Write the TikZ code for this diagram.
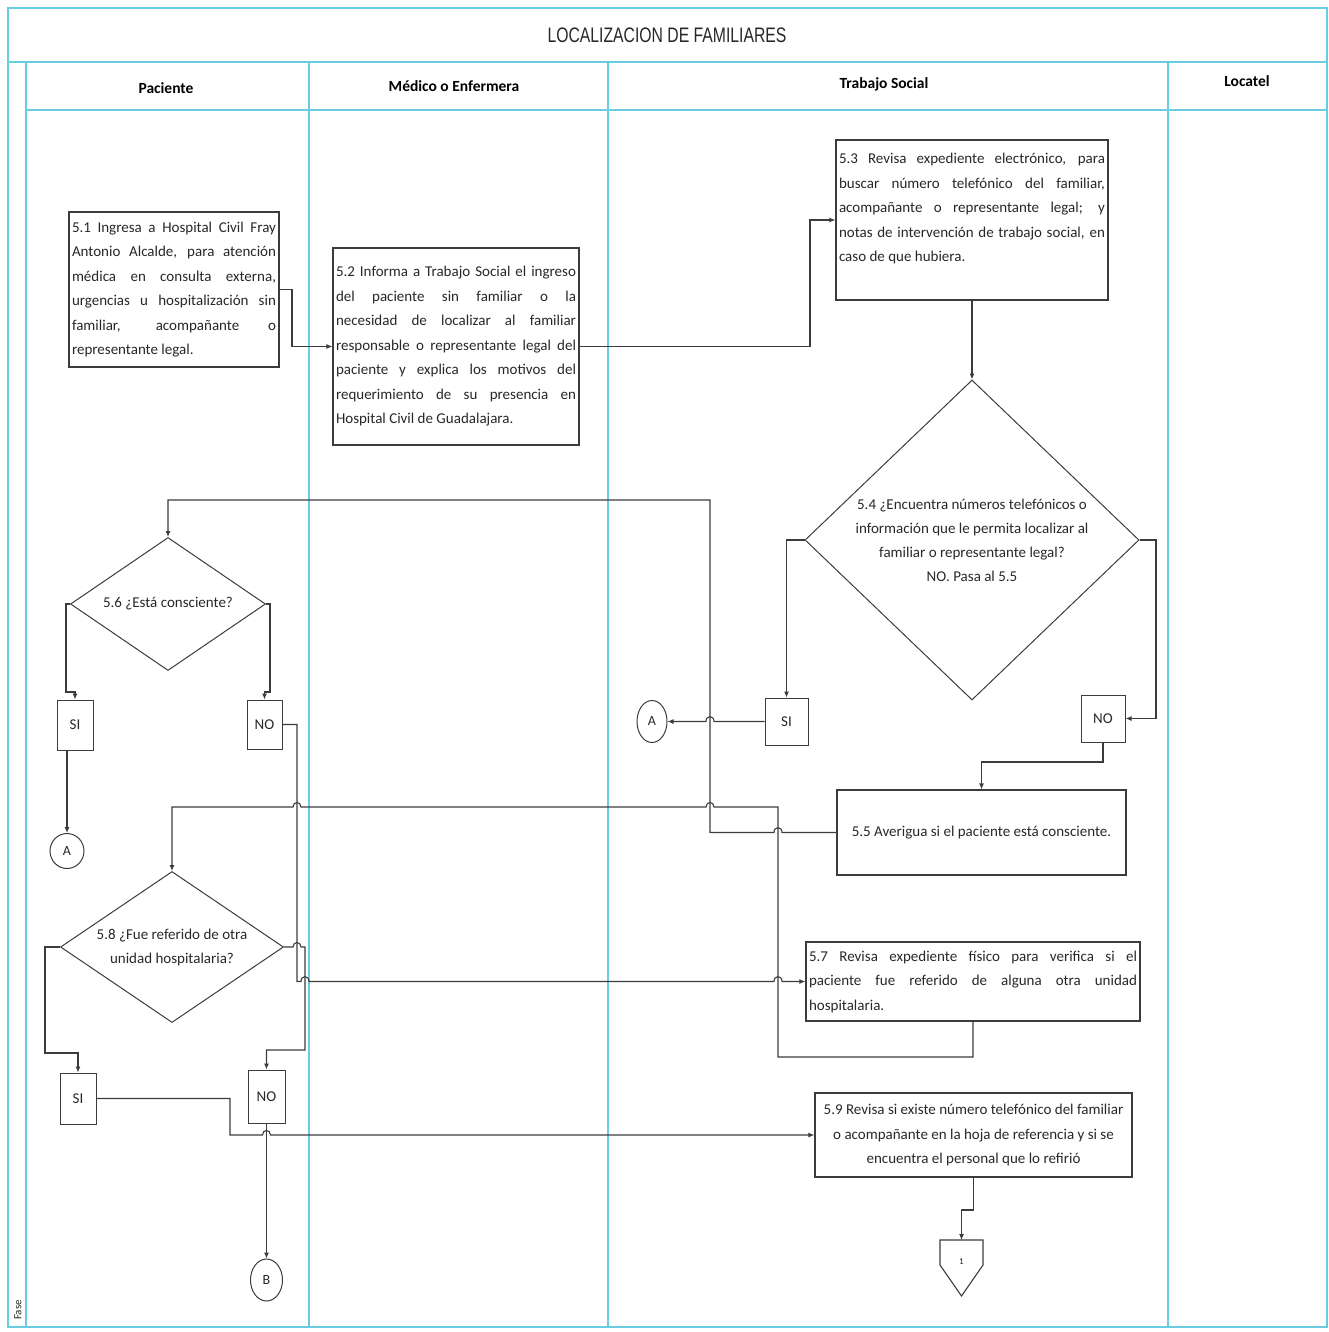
\documentclass[tikz,border=0pt]{standalone}
\usepackage{fontspec}
\setmainfont{Carlito}
\newfontfamily\titlefont[FakeStretch=0.75]{Liberation Sans}
\usetikzlibrary{shapes.geometric,arrows.meta}
\definecolor{lane}{RGB}{105,205,225}
\definecolor{ink}{RGB}{60,60,60}
\definecolor{txt}{RGB}{40,40,40}
\begin{document}
\begin{tikzpicture}[x=1pt,y=-1pt,
  box/.style={draw=ink, line width=1.1pt, fill=white, inner sep=3pt, text=txt, font=\fontsize{15}{24.5}\selectfont},
  jbox/.style={box, align=justify, text width=#1},
  cbox/.style={box, align=center},
  dec/.style={diamond, draw=ink, line width=1pt, inner sep=0pt, text=txt, align=center, font=\fontsize{15}{24}\selectfont},
  lbl/.style={draw=ink, line width=1pt, inner sep=0pt, fill=white, text=txt, font=\fontsize{15}{18}\selectfont},
  conn/.style={ellipse, draw=ink, line width=1pt, inner sep=0pt, fill=white, text=txt, font=\fontsize{14}{16}\selectfont},
  arr/.style={draw=ink, line width=1.1pt, -{Latex[length=6pt,width=5pt]}},
  ln/.style={draw=ink, line width=1.1pt},
  lanel/.style={draw=lane, line width=1.4pt},
  head/.style={font=\bfseries\fontsize{15.5}{17}\selectfont, text=black}
]
\useasboundingbox (0,0) rectangle (1328,1332);

% swimlane frame
\draw[lanel] (8,8) rectangle (1327,1327);
\draw[lanel] (8,62) -- (1327,62);
\draw[lanel] (26,110) -- (1327,110);
\draw[lanel] (26,62) -- (26,1327);
\draw[lanel] (309,62) -- (309,1327);
\draw[lanel] (608,62) -- (608,1327);
\draw[lanel] (1168,62) -- (1168,1327);

\node[font=\titlefont\fontsize{21}{24}\selectfont, text=txt] (title) at (667,35) {LOCALIZACION DE FAMILIARES};
\node[head] (hPac) at (166,88) {Paciente};
\node[head] (hMed) at (454,86) {Médico o Enfermera};
\node[head] (hTS) at (884,84) {Trabajo Social};
\node[head] (hLoc) at (1247,81) {Locatel};
\node[rotate=90, font=\fontsize{11}{12}\selectfont, text=txt] (fase) at (18,1310) {Fase};

% process boxes
\node[jbox=204pt, minimum height=155pt] (b51) at (174,289.5)
 {5.1 Ingresa a Hospital Civil Fray\linebreak Antonio Alcalde, para atención\linebreak médica en consulta externa,\linebreak urgencias u hospitalización sin\linebreak familiar, acompañante o\linebreak representante legal.};
\node[jbox=240pt, minimum height=197pt] (b52) at (456,346.5)
 {5.2 Informa a Trabajo Social el ingreso\linebreak del paciente sin familiar o la\linebreak necesidad de localizar al familiar\linebreak responsable o representante legal del\linebreak paciente y explica los motivos del\linebreak requerimiento de su presencia en\linebreak Hospital Civil de Guadalajara.};
\node[jbox=266pt, minimum height=160pt] (b53) at (972,220)
 {5.3 Revisa expediente electrónico, para\linebreak buscar número telefónico del familiar,\linebreak acompañante o representante legal; y\linebreak notas de intervención de trabajo social, en\linebreak caso de que hubiera.\par\mbox{}};
\node[cbox, minimum width=289pt, minimum height=85pt] (b55) at (981.5,832.5)
 {5.5 Averigua si el paciente está consciente.};
\node[jbox=328pt, minimum height=79pt] (b57) at (973,981.5)
 {5.7 Revisa expediente físico para verifica si el\linebreak paciente fue referido de alguna otra unidad\linebreak hospitalaria.};
\node[cbox, minimum width=317pt, minimum height=84pt] (b59) at (973.5,1135)
 {5.9 Revisa si existe número telefónico del familiar\\ o acompañante en la hoja de referencia y si se\\ encuentra el personal que lo refirió};

% decisions
\node[dec, aspect=1.04, minimum width=334pt, minimum height=320pt] (d54) at (972,540)
 {5.4 ¿Encuentra números telefónicos o\\ información que le permita localizar al\\ familiar o representante legal?\\ NO. Pasa al 5.5};
\node[dec, aspect=1.47, minimum width=195pt, minimum height=133pt] (d56) at (168,604)
 {5.6 ¿Está consciente?};
\node[dec, aspect=1.48, minimum width=223pt, minimum height=151pt] (d58) at (172,947)
 {5.8 ¿Fue referido de otra\\ unidad hospitalaria?};

% answer labels
\node[lbl, minimum width=43pt, minimum height=47pt] (si54) at (786.5,721.5) {SI};
\node[lbl, minimum width=44pt, minimum height=47pt] (no54) at (1103,718.5) {NO};
\node[lbl, minimum width=36pt, minimum height=50pt] (si56) at (75,725) {SI};
\node[lbl, minimum width=35pt, minimum height=49pt] (no56) at (264.5,724.5) {NO};
\node[lbl, minimum width=36pt, minimum height=51pt] (si58) at (78,1098.5) {SI};
\node[lbl, minimum width=37pt, minimum height=53pt] (no58) at (266.5,1096.5) {NO};

% connectors (on-page / off-page)
\node[conn, minimum width=30pt, minimum height=42pt] (a54) at (652,721.5) {A};
\node[conn, minimum width=34pt, minimum height=35pt] (a56) at (67,851) {A};
\node[conn, minimum width=32pt, minimum height=42pt] (bB) at (266.5,1280) {B};
\draw[ln, fill=white] (940,1240) -- (983,1240) -- (983,1265) -- (961.5,1296) -- (940,1265) -- cycle;
\coordinate (opt) at (961.5,1240);
\node[text=txt, font=\fontsize{9}{10}\selectfont] (op) at (961.5,1262) {1};

% flow lines
\draw[arr] (b51.east) -- (292,289.5) |- (b52.west);
\draw[arr] (b52.east) -- (810,346.5) |- (b53.west);
\draw[arr] (b53.south) -- (d54.north);
\draw[arr] (d54.west) -| (si54.north);
\draw[arr] (d54.east) -- (1156,540) |- (no54.east);
\draw[arr] (si54.west) -- (714,721.5) .. controls (714,715) and (706,715) .. (706,721.5) -- (a54.east);
\draw[arr] (no54.south) -- (1103,762) -| (b55.north);
\draw[arr] (b55.west) -- (782,832.5) .. controls (782,826) and (774,826) .. (774,832.5) -- (710,832.5) -- (710,500) -| (d56.north);
\draw[arr] (d56.west) -- (66,604) -- (66,692) -| (si56.north);
\draw[arr] (d56.east) -- (270,604) -- (270,692) -| (no56.north);
\draw[arr] (si56.south -| a56.north) -- (a56.north);
\draw[arr] (no56.east) -- (297,724.5) -- (297,981.5) -- (301,981.5) .. controls (301,975) and (309,975) .. (309,981.5) -- (774,981.5) .. controls (774,975) and (782,975) .. (782,981.5) -- (b57.west);
\draw[arr] (b57.south) -- (973,1057) -- (778,1057) -- (778,807) -- (714,807) .. controls (714,801) and (706,801) .. (706,807) -- (301,807) .. controls (301,801) and (293,801) .. (293,807) -| (d58.north);
\draw[arr] (d58.west) -- (45,947) -- (45,1053) -| (si58.north);
\draw[arr] (d58.east) -- (293,947) .. controls (293,941) and (301,941) .. (301,947) -- (305,947) -- (305,1050) -| (no58.north);
\draw[arr] (si58.east) -- (230,1098.5) -- (230,1135) -- (262.5,1135) .. controls (262.5,1129) and (270.5,1129) .. (270.5,1135) -- (b59.west);
\draw[arr] (no58.south) -- (bB.north);
\draw[arr] (b59.south) -- (973.5,1210) -| (opt);
\end{tikzpicture}
\end{document}
